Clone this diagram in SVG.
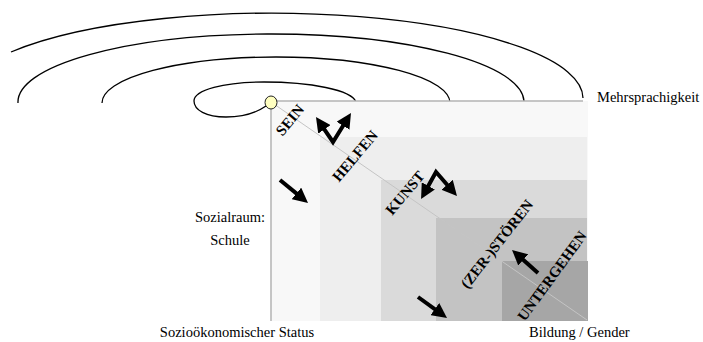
<svg xmlns="http://www.w3.org/2000/svg" width="703" height="342" viewBox="0 0 703 342">
<style>
.lbl{font-family:"Liberation Serif","Times New Roman",serif;font-size:14.5px;fill:#000}
.dlbl{font-family:"Liberation Serif","Times New Roman",serif;font-size:15px;font-weight:bold;fill:#000}
.arc{fill:none;stroke:#000;stroke-width:1.3}
.arr{fill:none;stroke:#000;stroke-width:4;stroke-linejoin:miter}
.axis{stroke:#b4b4b4;stroke-width:1.5;fill:none}
</style>
<defs>
<marker id="ah" markerUnits="userSpaceOnUse" markerWidth="15" markerHeight="15" viewBox="0 0 15 15" refX="5" refY="7.5" orient="auto-start-reverse">
<path d="M0,0 L15,7.5 L0,15 z" fill="#000"/>
</marker>
</defs>
<rect width="703" height="342" fill="#fff"/>
<g id="arcs">
<path class="arc" d="M 11 52 A 311 85 0 0 1 583 98"/>
<path class="arc" d="M 18 103 A 253 68 0 0 1 524 101"/>
<path class="arc" d="M 102 103 A 174 46 0 0 1 450 103"/>
<path class="arc" d="M 266 106 C 256 113 242 117 226 117 C 206 117 194 110 194 101 C 194 90 224 82 264 82 C 310 82 352 90 356 102"/>
</g>
<g id="levels">
<rect x="271" y="101" width="317" height="220" fill="#f8f8f8"/>
<rect x="320" y="137" width="267" height="184" fill="#eeeeee"/>
<rect x="381" y="180" width="206" height="141" fill="#dadada"/>
<rect x="436" y="218" width="151" height="103" fill="#c3c3c3"/>
<rect x="502" y="261" width="86" height="60" fill="#a6a6a6"/>
<path class="axis" d="M 271 101 L 583 101 M 271 101 L 271 321"/>
<line x1="271" y1="102" x2="587" y2="320" stroke="#c4c4c4" stroke-width="1"/>
</g>
<g id="origin">
<ellipse cx="271" cy="102.5" rx="6" ry="6.5" fill="#ffffc0" stroke="#222" stroke-width="1"/>
</g>
<g id="connectors">
<path class="arr" d="M 321.6 125.3 L 333 142 L 345.7 121.5" marker-start="url(#ah)" marker-end="url(#ah)"/>
<path class="arr" d="M 425.9 190.3 L 436 172 L 450.4 188.5" marker-start="url(#ah)" marker-end="url(#ah)"/>
<path class="arr" d="M 280 180 L 300.3 196.6" marker-end="url(#ah)"/>
<path class="arr" d="M 418 297 L 438.9 312.1" marker-end="url(#ah)"/>
<path class="arr" d="M 538 273 L 519.5 256.6" marker-end="url(#ah)"/>
</g>
<g id="stage-sein"><text class="dlbl" text-anchor="middle" transform="translate(290,120) rotate(-50)" y="5">SEIN</text></g>
<g id="stage-helfen"><text class="dlbl" text-anchor="middle" transform="translate(355,156) rotate(-50)" y="5">HELFEN</text></g>
<g id="stage-kunst"><text class="dlbl" text-anchor="middle" transform="translate(405,193) rotate(-50)" y="5">KUNST</text></g>
<g id="stage-zerstoeren"><text class="dlbl" text-anchor="middle" transform="translate(497,244) rotate(-52)" y="5">(ZER-)STÖREN</text></g>
<g id="stage-untergehen"><text class="dlbl" text-anchor="middle" transform="translate(552,276) rotate(-54)" y="5">UNTERGEHEN</text></g>
<g id="label-mehrsprachigkeit"><text class="lbl" x="597" y="102">Mehrsprachigkeit</text></g>
<g id="label-sozialraum"><text class="lbl" text-anchor="middle" x="230" y="222" font-size="15">Sozialraum:</text><text class="lbl" text-anchor="middle" x="230" y="245" font-size="15">Schule</text></g>
<g id="label-status"><text class="lbl" text-anchor="middle" x="237" y="337">Sozioökonomischer Status</text></g>
<g id="label-bildung"><text class="lbl" x="529" y="337">Bildung / Gender</text></g>
</svg>
